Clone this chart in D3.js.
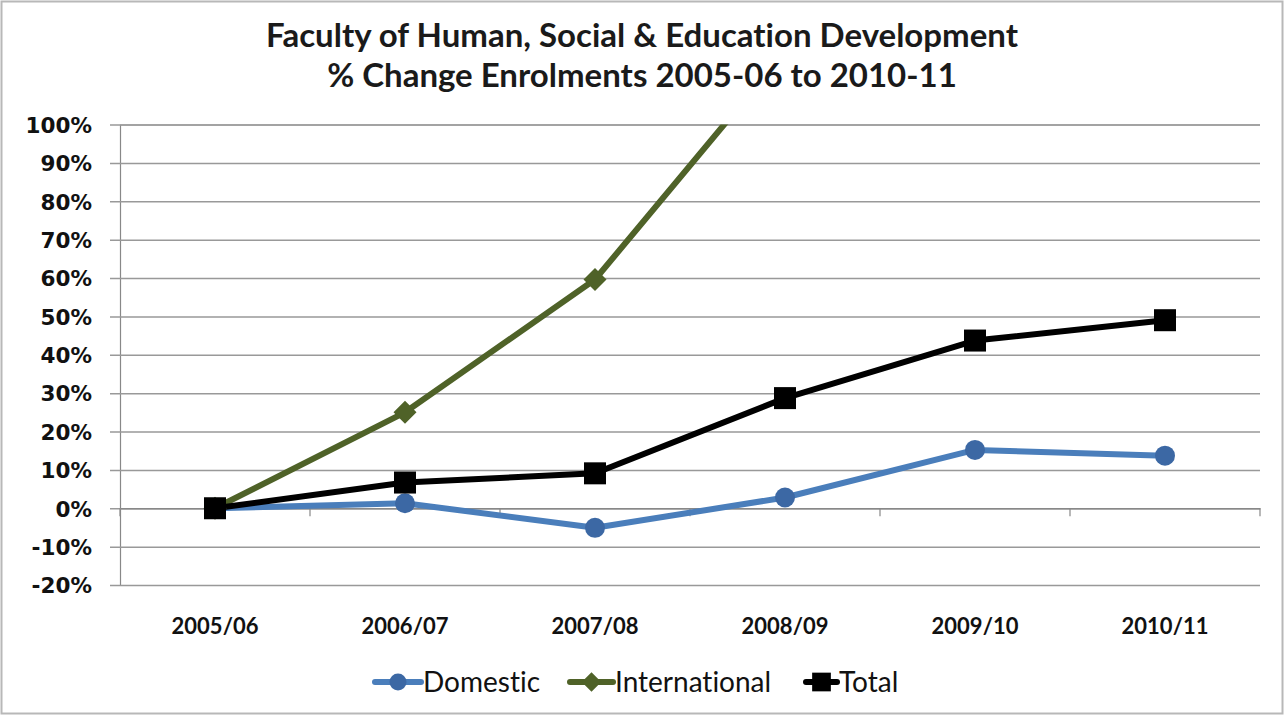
<!DOCTYPE html>
<html>
<head>
<meta charset="utf-8">
<script src="https://cdn.jsdelivr.net/npm/d3@7"></script>
<style>
  html, body { margin: 0; padding: 0; background: #fff; }
  svg { display: block; }
  text { font-variant-ligatures: none; font-feature-settings: "liga" 0, "clig" 0; }
</style>
</head>
<body>
<svg id="chart" width="1284" height="715"></svg>
<script>
const categories = ["2005/06", "2006/07", "2007/08", "2008/09", "2009/10", "2010/11"];
const domestic = [0, 0.013, -0.051, 0.028, 0.152, 0.137];
const international = [0, 0.25, 0.596, 1.19, 1.5, 1.7];
const total = [0, 0.067, 0.091, 0.287, 0.437, 0.49];
const yTicks = [-0.2, -0.1, 0, 0.1, 0.2, 0.3, 0.4, 0.5, 0.6, 0.7, 0.8, 0.9, 1.0];
const titleLines = ["Faculty of Human, Social & Education Development", "% Change Enrolments 2005-06 to 2010-11"];

const series = [
  { name: "Domestic", values: domestic, line: "#4A7EBB", fill: "#3C68A4", marker: "circle" },
  { name: "International", values: international, line: "#4F6228", fill: "#4F6228", marker: "diamond" },
  { name: "Total", values: total, line: "#000000", fill: "#000000", marker: "square" }
];

const svg = d3.select("#chart");
const W = 1284, H = 715;
const pLeft = 120, pRight = 1260, pTop = 124.5, pBottom = 585;

svg.append("rect").attr("x", 1.5).attr("y", 1.5).attr("width", W - 3).attr("height", H - 3)
  .attr("fill", "#fff").attr("stroke", "#b8b8b8").attr("stroke-width", 2);

const x = d3.scaleBand().domain(categories).range([pLeft, pRight]).padding(0);
const y = d3.scaleLinear().domain([-0.2, 1.0]).range([pBottom, pTop]);

// title
svg.append("g").selectAll("text").data(titleLines).join("text")
  .attr("x", 642).attr("y", (d, i) => 47 + i * 40)
  .attr("text-anchor", "middle")
  .attr("font-family", "Lato, 'Open Sans', sans-serif")
  .attr("font-weight", "bold").attr("font-size", 33)
  .attr("fill", "#1a1a1a")
  .text(d => d);

// gridlines + y axis
const pct = d => `${Math.round(d * 100)}%`;
const yAxis = d3.axisLeft(y).tickValues(yTicks).tickFormat(pct)
  .tickSize(-(pRight - pLeft)).tickPadding(0);
const gy = svg.append("g").attr("transform", `translate(${pLeft},0)`).call(yAxis);
gy.select(".domain").attr("stroke", "#888").attr("stroke-width", 1.2);
gy.selectAll(".tick line").attr("stroke", "#999").attr("stroke-width", 1.5)
  .attr("x1", -10);
gy.selectAll(".tick text").attr("x", -28).attr("dy", "0.36em")
  .attr("font-family", "'DejaVu Sans', Verdana, sans-serif")
  .attr("font-weight", "bold").attr("font-size", 21.5).attr("fill", "#111");

// category axis at 0%
const xAxis = d3.axisBottom(x).tickSize(0).tickFormat("");
const gx = svg.append("g").attr("transform", `translate(0,${y(0)})`).call(xAxis);
gx.select(".domain").attr("stroke", "#888").attr("stroke-width", 1.5);
const bounds = categories.map(c => x(c)).concat([pRight]);
gx.selectAll(".bnd").data(bounds).join("line").attr("class", "bnd")
  .attr("x1", d => d).attr("x2", d => d).attr("y1", 0).attr("y2", 8)
  .attr("stroke", "#888").attr("stroke-width", 1.2);

// category labels at bottom
svg.append("g").selectAll("text").data(categories).join("text")
  .attr("x", d => x(d) + x.bandwidth() / 2).attr("y", 634)
  .attr("text-anchor", "middle")
  .attr("font-family", "Lato, 'Open Sans', sans-serif")
  .attr("font-weight", "bold").attr("font-size", 22).attr("fill", "#111")
  .text(d => d);

// clip
svg.append("clipPath").attr("id", "plotclip").append("rect")
  .attr("x", pLeft).attr("y", pTop).attr("width", pRight - pLeft).attr("height", pBottom - pTop);

const line = d3.line().x((d, i) => x(categories[i]) + x.bandwidth() / 2).y(d => y(d));
const plot = svg.append("g").attr("clip-path", "url(#plotclip)");

function drawMarker(g, type, color, cx, cy, scale) {
  const s = scale || 1;
  if (type === "circle") {
    g.append("circle").attr("cx", cx).attr("cy", cy).attr("r", 10 * s).attr("fill", color);
  } else if (type === "diamond") {
    const r = 11.5 * s;
    g.append("path").attr("d", `M${cx},${cy - r}L${cx + r},${cy}L${cx},${cy + r}L${cx - r},${cy}Z`).attr("fill", color);
  } else {
    const r = 11 * s;
    g.append("rect").attr("x", cx - r).attr("y", cy - r).attr("width", 2 * r).attr("height", 2 * r).attr("fill", color);
  }
}

series.forEach(s => {
  plot.append("path").datum(s.values).attr("d", line)
    .attr("fill", "none").attr("stroke", s.line).attr("stroke-width", 6)
    .attr("stroke-linejoin", "round");
});
series.forEach(s => {
  const g = plot.append("g");
  s.values.forEach((v, i) => {
    if (v <= 1.0) drawMarker(g, s.marker, s.fill, x(categories[i]) + x.bandwidth() / 2, y(v), 1);
  });
});

// legend
const legendPos = [{ lx: 375, tx: 423 }, { lx: 570, tx: 615 }, { lx: 806, tx: 839 }];
const lg = svg.append("g");
series.forEach((s, i) => {
  const p = legendPos[i];
  const cy = 682;
  const x2 = p.tx - 2;
  lg.append("line").attr("x1", p.lx).attr("x2", x2).attr("y1", cy).attr("y2", cy)
    .attr("stroke", s.line).attr("stroke-width", 6).attr("stroke-linecap", "round");
  drawMarker(lg, s.marker, s.fill, (p.lx + x2) / 2, cy, 0.85);
  lg.append("text").attr("x", p.tx).attr("y", cy + 10)
    .attr("font-family", "Lato, 'Open Sans', sans-serif")
    .attr("font-size", 28).attr("fill", "#111").text(s.name);
});
</script>
</body>
</html>
